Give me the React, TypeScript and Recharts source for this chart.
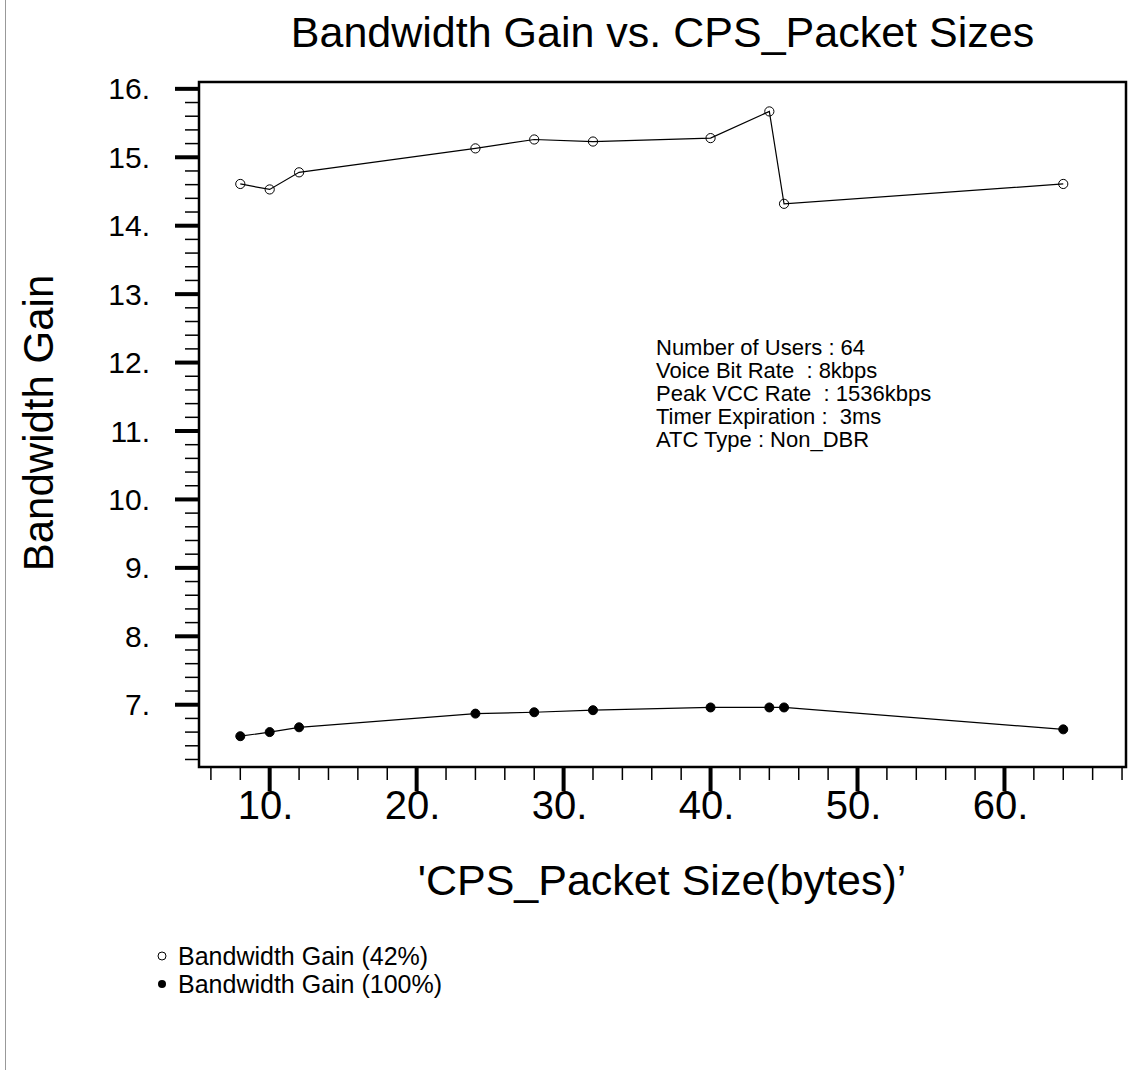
import { Legend, Line, LineChart, ReferenceArea, XAxis, YAxis } from "recharts";

const packetSizes = [8, 10, 12, 24, 28, 32, 40, 44, 45, 64];
const gain42 = [14.61, 14.53, 14.78, 15.13, 15.26, 15.23, 15.28, 15.67, 14.32, 14.61];
const gain100 = [6.54, 6.6, 6.67, 6.87, 6.89, 6.92, 6.96, 6.96, 6.96, 6.64];

const xMajorTicks = [10, 20, 30, 40, 50, 60];
const yMajorTicks = [7, 8, 9, 10, 11, 12, 13, 14, 15, 16];
const xTicks = Array.from({ length: 32 }, (_, i) => 6 + 2 * i);
const yTicks = Array.from({ length: 50 }, (_, i) => Math.round((6.2 + 0.2 * i) * 10) / 10);

const xDomain = [5.19, 68.27];
const yDomain = [6.09, 16.1];

const notes = [
  "Number of Users : 64",
  "Voice Bit Rate  : 8kbps",
  "Peak VCC Rate  : 1536kbps",
  "Timer Expiration :  3ms",
  "ATC Type : Non_DBR",
];

const seriesOrder = ["g42", "g100"];

const data = packetSizes.map((size, i) => ({
  size,
  g42: gain42[i],
  g100: gain100[i],
}));

const font = "'Liberation Sans', Arial, sans-serif";

function YTick(props: any) {
  const { x, y, payload } = props;
  const v = payload.value;
  const major = yMajorTicks.includes(v);
  return (
    <g>
      <line x1={x - (major ? 24 : 14)} x2={x} y1={y} y2={y} stroke="#000" strokeWidth={major ? 4 : 1.5} />
      {major && (
        <text x={x - 49} y={y} textAnchor="end" dominantBaseline="central" fontSize={30} fontFamily={font} fill="#000">
          {v}.
        </text>
      )}
    </g>
  );
}

function XTick(props: any) {
  const { x, y, payload } = props;
  const v = payload.value;
  const major = xMajorTicks.includes(v);
  return (
    <g>
      <line x1={x} x2={x} y1={y} y2={y + (major ? 24 : 13)} stroke="#000" strokeWidth={major ? 4 : 1.5} />
      {major && (
        <text x={x - 4} y={y + 52} textAnchor="middle" fontSize={40} fontFamily={font} fill="#000">
          {v}.
        </text>
      )}
    </g>
  );
}

function LegendBox(props: any) {
  const items = [...(props.payload || [])].sort(
    (a: any, b: any) => seriesOrder.indexOf(a.dataKey) - seriesOrder.indexOf(b.dataKey)
  );
  return (
    <div style={{ fontFamily: font, fontSize: 25, color: "#000" }}>
      {items.map((item: any) => (
        <div key={item.value} style={{ display: "flex", alignItems: "center", height: 28 }}>
          <svg width={12} height={12}>
            {item.dataKey === "g42" ? (
              <circle cx={6} cy={6} r={4} fill="none" stroke="#000" strokeWidth={1} />
            ) : (
              <circle cx={6} cy={6} r={4} fill="#000" />
            )}
          </svg>
          <span style={{ marginLeft: 10 }}>{item.value}</span>
        </div>
      ))}
    </div>
  );
}

export default function App() {
  return (
    <div style={{ position: "absolute", left: 0, top: 0, width: 1134, height: 1085, background: "#fff", fontFamily: font }}>
      <div style={{ position: "absolute", left: 5, top: 0, width: 1, height: 1070, background: "#999" }} />
      <div style={{ position: "absolute", left: 199, top: 11, width: 927, textAlign: "center", fontSize: 43, lineHeight: "43px" }}>
        Bandwidth Gain vs. CPS_Packet Sizes
      </div>
      <LineChart width={1134} height={1085} data={data} margin={{ top: 82, right: 8, bottom: 317, left: 198 }}>
        <XAxis
          dataKey="size"
          type="number"
          domain={xDomain}
          allowDataOverflow
          ticks={xTicks}
          interval={0}
          height={1}
          tickSize={0}
          tickMargin={0}
          axisLine={false}
          tickLine={false}
          tick={<XTick />}
          label={{
            content: () => (
              <text x={662} y={895} textAnchor="middle" fontSize={43} fontFamily={font} fill="#000">
                'CPS_Packet Size(bytes)’
              </text>
            ),
          }}
        />
        <YAxis
          type="number"
          domain={yDomain}
          allowDataOverflow
          ticks={yTicks}
          interval={0}
          width={1}
          tickSize={0}
          tickMargin={0}
          axisLine={false}
          tickLine={false}
          tick={<YTick />}
          label={{
            content: () => (
              <text
                x={38}
                y={423}
                transform="rotate(-90 38 423)"
                textAnchor="middle"
                dominantBaseline="central"
                fontSize={42}
                fontFamily={font}
                fill="#000"
              >
                Bandwidth Gain
              </text>
            ),
          }}
        />
        <ReferenceArea
          x1={xDomain[0]}
          x2={xDomain[1]}
          y1={yDomain[0]}
          y2={yDomain[1]}
          fill="none"
          stroke="#000"
          strokeWidth={2.5}
        />
        <Line
          dataKey="g42"
          name="Bandwidth Gain (42%)"
          type="linear"
          stroke="#000"
          strokeWidth={1.2}
          dot={{ r: 4.6, fill: "none", stroke: "#000", strokeWidth: 1 }}
          activeDot={false}
          isAnimationActive={false}
        />
        <Line
          dataKey="g100"
          name="Bandwidth Gain (100%)"
          type="linear"
          stroke="#000"
          strokeWidth={1.2}
          dot={{ r: 4.5, fill: "#000", stroke: "#000", strokeWidth: 1 }}
          activeDot={false}
          isAnimationActive={false}
        />
        <Legend
          layout="vertical"
          align="center"
          verticalAlign="middle"
          content={<LegendBox />}
          wrapperStyle={{ left: 156, top: 942, width: 420 }}
        />
      </LineChart>
      <div style={{ position: "absolute", left: 656, top: 336, fontSize: 22, lineHeight: "23px", whiteSpace: "pre" }}>
        {notes.map((n) => (
          <div key={n}>{n}</div>
        ))}
      </div>
    </div>
  );
}
